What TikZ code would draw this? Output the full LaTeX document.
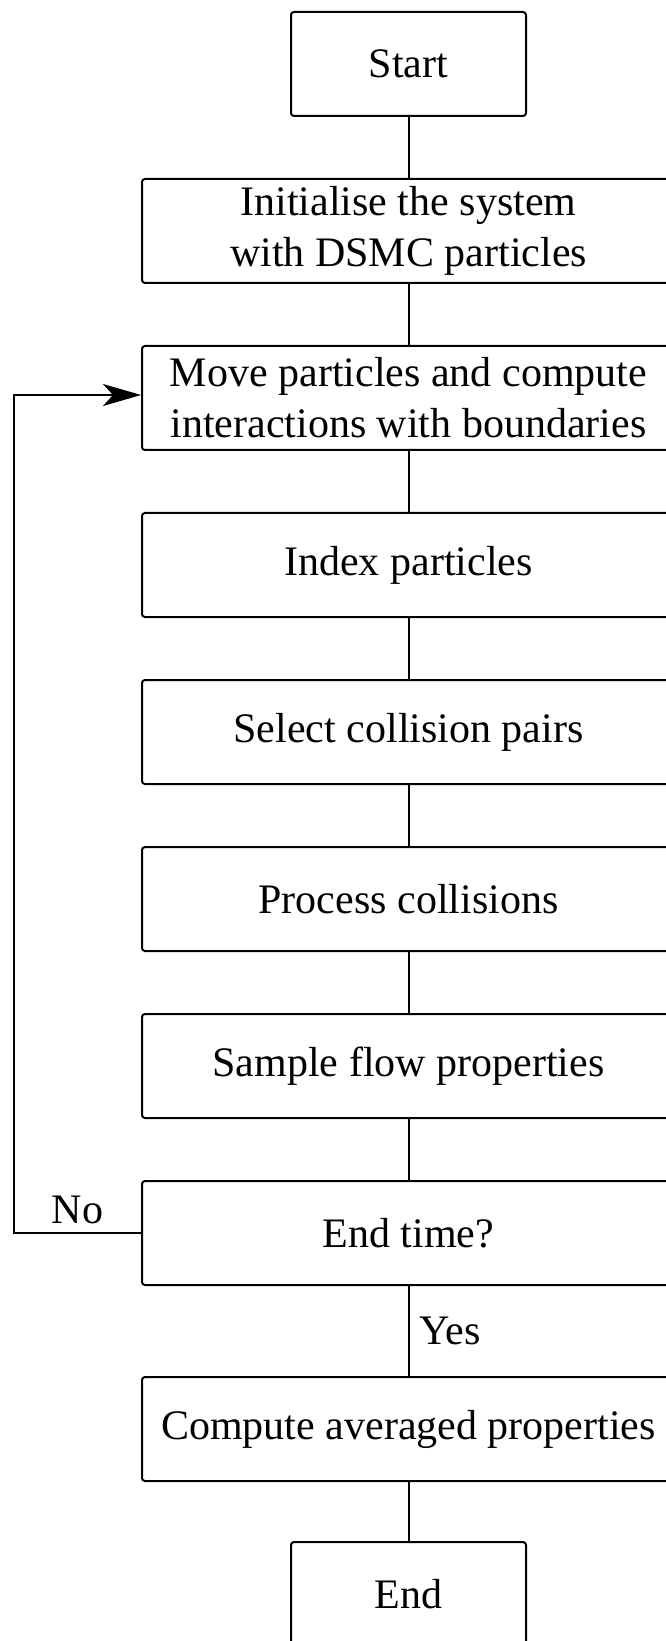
\documentclass[tikz,border=0pt]{standalone}
\usepackage{fontspec}
\setmainfont{Liberation Serif}
\usetikzlibrary{arrows.meta}
\begin{document}
\begin{tikzpicture}[x=0.5pt,y=-0.5pt,
  stepbox/.style={draw, line width=1pt, rounded corners=1.5pt,
    minimum width=266.5pt, minimum height=52pt, align=center,
    font=\fontsize{21}{25.5}\selectfont, inner sep=0pt},
  termbox/.style={stepbox, minimum width=117.5pt},
  link/.style={line width=1pt},
  lbl/.style={font=\fontsize{21}{25.5}\selectfont, inner sep=5pt}]
\useasboundingbox (0,0) rectangle (665,1641);

% process steps
\node[termbox] (start)   at (408.5,64)   {Start};
\node[stepbox] (init)    at (408.5,231)  {Initialise the system\\with DSMC particles};
\node[stepbox] (move)    at (408.5,398)  {Move particles and compute\\interactions with boundaries};
\node[stepbox] (index)   at (408.5,565)  {Index particles};
\node[stepbox] (select)  at (408.5,732)  {Select collision pairs};
\node[stepbox] (process) at (408.5,899)  {Process collisions};
\node[stepbox] (sample)  at (408.5,1066) {Sample flow properties};
\node[stepbox] (endtime) at (408.5,1233) {End time?};
\node[stepbox] (average) at (408.5,1429) {Compute averaged properties};
\node[termbox] (stop)    at (408.5,1594) {End};

% straight connectors
\draw[link] (start) -- (init);
\draw[link] (init) -- (move);
\draw[link] (move) -- (index);
\draw[link] (index) -- (select);
\draw[link] (select) -- (process);
\draw[link] (process) -- (sample);
\draw[link] (sample) -- (endtime);
\draw[link] (endtime) -- node[lbl, anchor=west] {Yes} (average);
\draw[link] (average) -- (stop);

% loop back to the move step
\coordinate (loopx) at (14,0);
\coordinate (loopin) at ([yshift=1.5pt]move.west);
\draw[link, -{Stealth[length=19pt, width=11pt, inset=5pt]}]
  (endtime.west) -- node[lbl, above, inner sep=4pt] {No} (endtime.west -| loopx)
  |- (loopin);
\end{tikzpicture}
\end{document}
